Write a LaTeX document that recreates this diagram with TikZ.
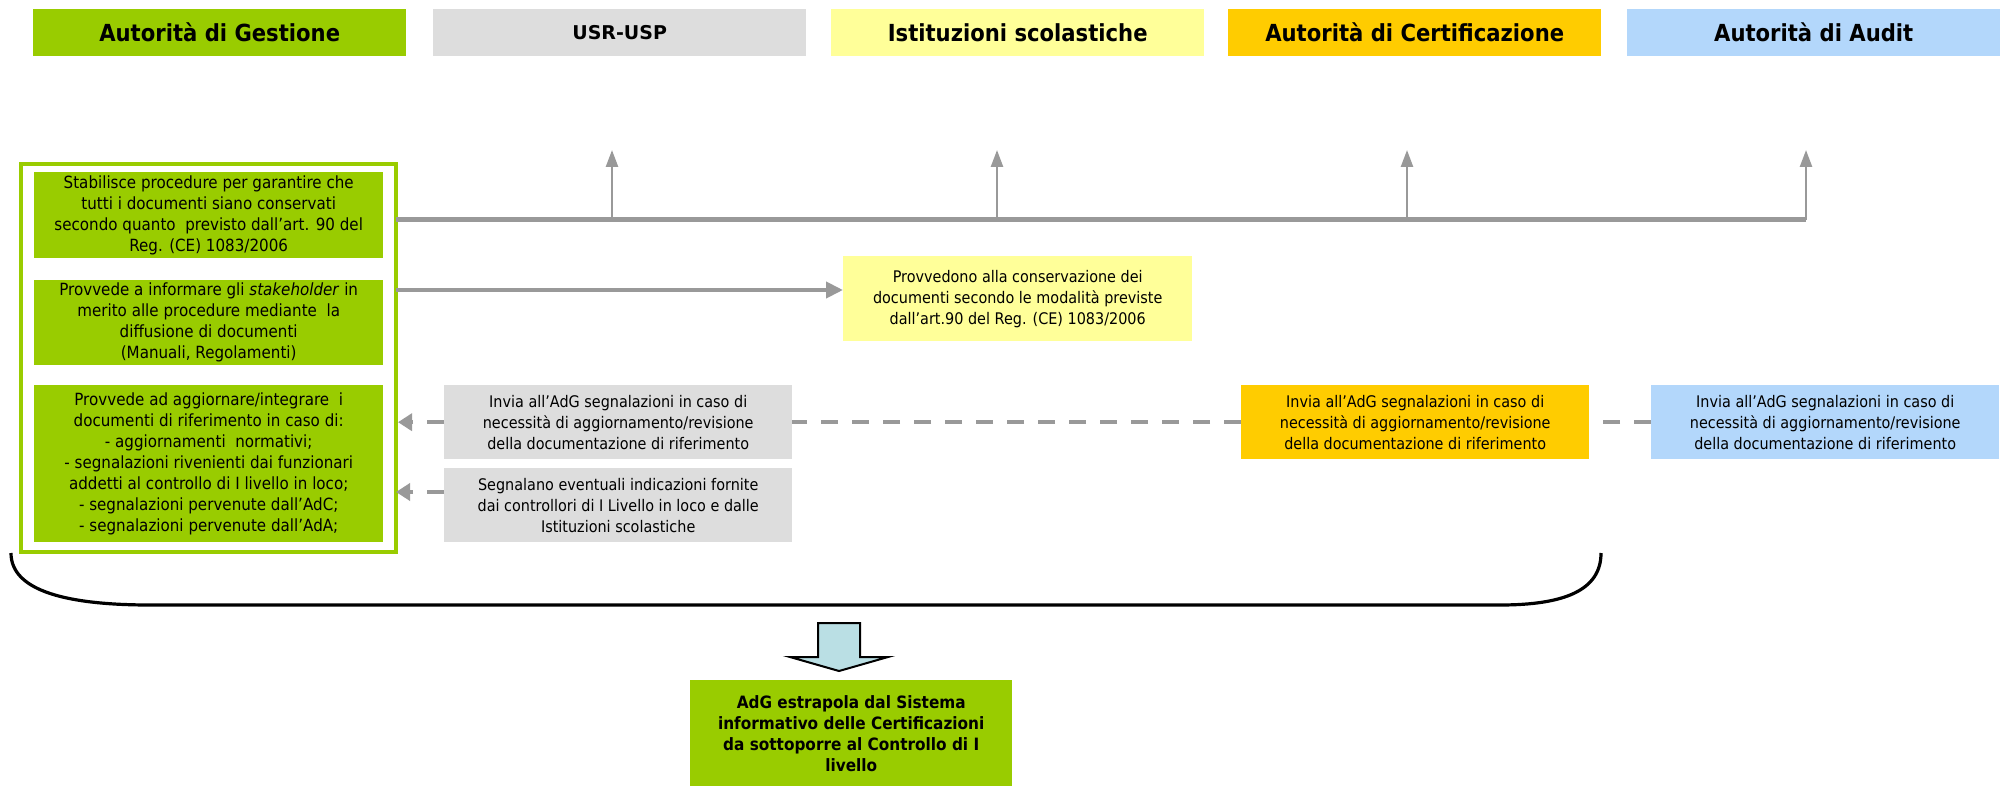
\documentclass[tikz,border=0pt]{standalone}
\usepackage{fontspec}
\setmainfont[FakeStretch=0.9]{DejaVu Sans}
\newfontfamily\widefont{DejaVu Sans}
\usetikzlibrary{arrows.meta}
\definecolor{agreen}{HTML}{99CC00}
\definecolor{agray}{HTML}{DDDDDD}
\definecolor{ayellow}{HTML}{FFFF99}
\definecolor{aorange}{HTML}{FFCC00}
\definecolor{ablue}{HTML}{B3D7FB}
\definecolor{lgray}{HTML}{999999}
\definecolor{acyan}{HTML}{BADFE4}
\tikzset{
  hdr/.style={rectangle, inner sep=0pt, align=center, minimum width=373pt, minimum height=47pt, anchor=north west, font=\fontsize{23.5}{28}\selectfont\bfseries},
  box/.style={rectangle, inner sep=0pt, align=center, anchor=north west, font=\fontsize{16}{21}\selectfont},
  gbox/.style={box, fill=agreen, minimum width=349pt, font=\fontsize{16.8}{21}\selectfont},
  solidline/.style={draw=lgray, line width=5pt},
  uparrow/.style={draw=lgray, line width=2.5pt, -{Triangle[length=17pt,width=12pt]}},
  solidarrow/.style={draw=lgray, line width=4pt, -{Triangle[length=17pt,width=16pt]}},
  dashline/.style={draw=lgray, line width=4pt, dash pattern=on 17pt off 14pt},
  dasharrow/.style={dashline, -{Triangle[length=14pt,width=17pt]}}
}
\begin{document}
\begin{tikzpicture}[x=1pt,y=-1pt]
\useasboundingbox (0,0) rectangle (2005,786);
% headers
\node[hdr, fill=agreen] (hadg) at (33,9) {Autorità di Gestione};
\node[hdr, fill=agray, font=\widefont\fontsize{19}{22}\selectfont\bfseries] (husr) at (433,9) {USR-USP};
\node[hdr, fill=ayellow] (hist) at (831,9) {Istituzioni scolastiche};
\node[hdr, fill=aorange] (hadc) at (1228,9) {Autorità di Certificazione};
\node[hdr, fill=ablue] (hada) at (1627,9) {Autorità di Audit};
% frame
\node[draw=agreen, line width=4pt, fill=white, minimum width=375pt, minimum height=388pt, anchor=north west, inner sep=0pt] (frame) at (19,162) {};
\node[gbox, minimum height=86pt] (b1) at (34,172) {Stabilisce procedure per garantire che\\tutti i documenti siano conservati\\secondo quanto \ previsto dall’art. 90 del\\Reg. (CE) 1083/2006};
\node[gbox, minimum height=85pt] (b2) at (34,280) {Provvede a informare gli \textit{stakeholder} in\\merito alle procedure mediante \ la\\diffusione di documenti\\(Manuali, Regolamenti)};
\node[gbox, minimum height=157pt] (b3) at (34,385) {Provvede ad aggiornare/integrare \ i\\documenti di riferimento in caso di:\\- aggiornamenti \ normativi;\\- segnalazioni rivenienti dai funzionari\\addetti al controllo di I livello in loco;\\- segnalazioni pervenute dall'AdC;\\- segnalazioni pervenute dall'AdA;};
% other boxes
\node[box, fill=ayellow, minimum width=349pt, minimum height=85pt] (yel) at (843,256) {Provvedono alla conservazione dei\\documenti secondo le modalità previste\\dall'art.90 del Reg. (CE) 1083/2006};
\node[box, fill=agray, minimum width=348pt, minimum height=74pt] (g1) at (444,385) {Invia all’AdG segnalazioni in caso di\\necessità di aggiornamento/revisione\\della documentazione di riferimento};
\node[box, fill=agray, minimum width=348pt, minimum height=74pt] (g2) at (444,468) {Segnalano eventuali indicazioni fornite\\dai controllori di I Livello in loco e dalle\\Istituzioni scolastiche};
\node[box, fill=aorange, minimum width=348pt, minimum height=74pt] (adc) at (1241,385) {Invia all’AdG segnalazioni in caso di\\necessità di aggiornamento/revisione\\della documentazione di riferimento};
\node[box, fill=ablue, minimum width=348pt, minimum height=74pt] (ada) at (1651,385) {Invia all’AdG segnalazioni in caso di\\necessità di aggiornamento/revisione\\della documentazione di riferimento};
\node[box, fill=agreen, minimum width=322pt, minimum height=106pt, font=\fontsize{17}{21}\selectfont\bfseries] (bot) at (690,680) {AdG estrapola dal Sistema\\informativo delle Certificazioni\\da sottoporre al Controllo di I\\livello};
% connectors
\coordinate (hl) at (396,220);
\coordinate (hr) at (1806,220);
\coordinate (t1) at (612,150);
\coordinate (t2) at (997,150);
\coordinate (t3) at (1407,150);
\coordinate (t4) at (1806,150);
\draw[solidline] (hl) -- (hr);
\draw[uparrow] (hl -| t1) -- (t1);
\draw[uparrow] (hl -| t2) -- (t2);
\draw[uparrow] (hl -| t3) -- (t3);
\draw[uparrow] (hr) -- (t4);
\coordinate (a2) at (396,290);
\draw[solidarrow] (a2) -- (yel.west |- a2);
\draw[dashline] (ada.west) -- (adc.east);
\draw[dashline] (adc.west) -- (g1.east);
\draw[dasharrow] (g1.west) -- (g1.west -| frame.east);
\coordinate (d2) at (396,492);
\draw[dasharrow] (g2.west |- d2) -- (d2);
% bracket
\draw[line width=3.2pt] (11,553) .. controls (11,592) and (70,605) .. (150,605) -- (1500,605) .. controls (1565,605) and (1601,590) .. (1601,553);
% block arrow
\draw[fill=acyan, line width=2pt, line join=miter] (818,623) -- (860,623) -- (860,657) -- (888,657) -- (839,671) -- (790,657) -- (818,657) -- cycle;
\end{tikzpicture}
\end{document}
